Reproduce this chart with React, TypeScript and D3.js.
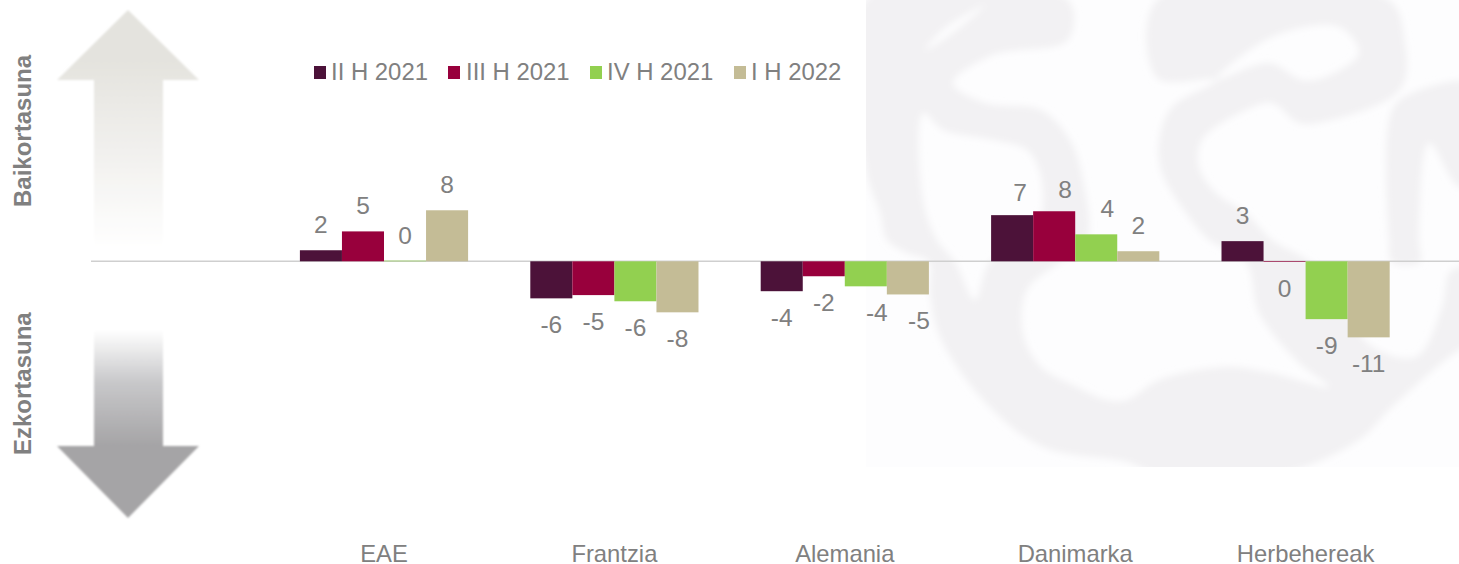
import React from "react";
import { scaleBand, scaleLinear, line, curveCatmullRomClosed } from "d3";

const width = 1459;
const height = 564;

const categories = ["EAE", "Frantzia", "Alemania", "Danimarka", "Herbehereak"];
const seriesNames = ["II H 2021", "III H 2021", "IV H 2021", "I H 2022"];
const seriesColors = ["#4c1239", "#98003c", "#92d050", "#c4bc96"];

// one value per category
const valuesH2 = [1.7, -5.7, -4.6, 7.1, 3.1];
const valuesH3 = [4.6, -5.2, -2.3, 7.7, -0.1];
const valuesH4 = [0.1, -6.15, -3.85, 4.15, -8.9];
const valuesH1 = [7.85, -7.85, -5.1, 1.55, -11.7];
const allValues = [valuesH2, valuesH3, valuesH4, valuesH1];

// the labels printed on the chart
const labelsH2 = ["2", "-6", "-4", "7", "3"];
const labelsH3 = ["5", "-5", "-2", "8", "0"];
const labelsH4 = ["0", "-6", "-4", "4", "-9"];
const labelsH1 = ["8", "-8", "-5", "2", "-11"];
const allLabels = [labelsH2, labelsH3, labelsH4, labelsH1];

const x0 = scaleBand().domain(categories).range([268.8, 1420.8]).paddingInner(0.27).paddingOuter(0.135);
const x1 = scaleBand().domain(seriesNames).range([0, x0.bandwidth()]);
const y = scaleLinear().domain([-12, 10]).range([339.3, 196.3]);

// labels the author dragged off their default spot: "category|series": [dx, dy]
const labelNudge: Record<string, number[]> = {
  "Alemania|2": [11, 0],
  "Alemania|3": [11, 0],
  "Danimarka|0": [8, 3],
  "Danimarka|1": [11, 4],
  "Danimarka|2": [11, 0],
};

const legendSwatchX = [314, 448, 590, 734];
const legendTextX = [331, 466, 607, 751];

// background watermark, traced by hand
const markOuter = [
  [866, 0], [1068, 0], [1068, 40], [993, 55], [953, 83], [985, 103], [1041, 110], [1070, 140], [1083, 180],
  [1087, 240], [1060, 262], [1027, 290], [1023, 333], [1040, 366], [1077, 387], [1107, 400], [1127, 400],
  [1159, 380], [1226, 367], [1272, 373], [1329, 387], [1299, 363], [1259, 313], [1246, 262], [1209, 240],
  [1186, 213], [1162, 173], [1159, 140], [1172, 107], [1216, 80], [1157, 78], [1157, 0], [1389, 0], [1405, 43],
  [1405, 80], [1392, 97], [1332, 120], [1299, 123], [1272, 103], [1246, 110], [1202, 140], [1199, 167],
  [1216, 193], [1246, 213], [1272, 240], [1310, 262], [1340, 300], [1370, 345], [1416, 357], [1442, 307],
  [1449, 273], [1459, 267], [1480, 267], [1480, 340], [1459, 350], [1392, 407], [1359, 440], [1276, 475],
  [1160, 475], [1127, 462], [1043, 447], [983, 400], [940, 337], [930, 293], [929, 262], [907, 253], [887, 240],
  [880, 213], [866, 170],
];
const markHoleLeft = [
  [923, 113], [943, 130], [993, 140], [1027, 150], [1040, 173], [1042, 213], [1030, 245], [990, 262],
  [975, 300], [955, 262], [937, 240], [923, 200],
];
const markHoleTop = [
  [1216, 80], [1272, 37], [1339, 27], [1359, 53], [1325, 77], [1302, 80], [1269, 63],
];
const markStreak = [[925, 50], [945, 28], [985, 5], [950, 35]];
const markRight = [
  [1392, 262], [1389, 240], [1392, 110], [1412, 93], [1480, 85], [1480, 187], [1459, 187], [1429, 143],
  [1419, 240], [1420, 262],
];

const closedCurve = line().curve(curveCatmullRomClosed.alpha(0.5));

export default function App() {
  const arrowUp = line()([[128, 10], [199, 80], [163, 80], [163, 262], [94, 262], [94, 80], [57, 80]]) + "Z";
  const arrowDown = line()([[128, 518], [199, 446], [163, 446], [163, 330], [94, 330], [94, 446], [57, 446]]) + "Z";
  const markPath = [markOuter, markHoleLeft, markHoleTop, markStreak].map((p) => closedCurve(p)).join("");

  return (
    <svg width={width} height={height} style={{ position: "absolute", left: 0, top: 0, fontFamily: "'Liberation Sans', Arial, sans-serif" }}>
      <defs>
        <linearGradient id="upFill" x1="0" y1="10" x2="0" y2="262" gradientUnits="userSpaceOnUse">
          <stop offset="0.2" stopColor="#e4e3de" />
          <stop offset="0.5" stopColor="#efeeeb" />
          <stop offset="0.95" stopColor="#ffffff" />
        </linearGradient>
        <linearGradient id="downFill" x1="0" y1="330" x2="0" y2="446" gradientUnits="userSpaceOnUse">
          <stop offset="0" stopColor="#ffffff" />
          <stop offset="0.45" stopColor="#c8c8ca" />
          <stop offset="1" stopColor="#a5a4a6" />
        </linearGradient>
        <filter id="soft" x="-5%" y="-5%" width="110%" height="110%">
          <feGaussianBlur stdDeviation="3.5" />
        </filter>
        <filter id="softArrow" x="-5%" y="-5%" width="110%" height="110%">
          <feGaussianBlur stdDeviation="0.8" />
        </filter>
        <clipPath id="markClip">
          <rect x={866} y={0} width={593} height={467} />
        </clipPath>
      </defs>

      <rect x={866} y={0} width={593} height={467} fill="#fdfdfe" />
      <g clipPath="url(#markClip)">
        <g filter="url(#soft)" fill="#f2f1f3">
          <path d={markPath} fillRule="evenodd" />
          <path d={closedCurve(markRight)} />
        </g>
      </g>

      <path d={arrowUp} fill="url(#upFill)" filter="url(#softArrow)" />
      <path d={arrowDown} fill="url(#downFill)" filter="url(#softArrow)" />

      <text transform="translate(31,207) rotate(-90)" fontSize={24} fontWeight="bold" fill="#808080">Baikortasuna</text>
      <text transform="translate(31,455) rotate(-90)" fontSize={24} fontWeight="bold" fill="#808080">Ezkortasuna</text>

      {seriesNames.map((name, i) => (
        <g key={name}>
          <rect x={legendSwatchX[i]} y={66} width={12} height={13} fill={seriesColors[i]} />
          <text x={legendTextX[i]} y={80} fontSize={23.9} fill="#808080">{name}</text>
        </g>
      ))}

      <line x1={91} x2={width} y1={y(0)} y2={y(0)} stroke="#cfcfcf" strokeWidth={1.5} />

      {seriesNames.map((name, s) =>
        categories.map((cat, c) => {
          const v = allValues[s][c];
          return (
            <rect
              key={name + cat}
              x={(x0(cat) as number) + (x1(name) as number)}
              y={Math.min(y(v), y(0))}
              width={x1.bandwidth()}
              height={Math.abs(y(v) - y(0))}
              fill={seriesColors[s]}
            />
          );
        })
      )}

      {seriesNames.map((name, s) =>
        categories.map((cat, c) => {
          const v = allValues[s][c];
          const nudge = labelNudge[`${cat}|${s}`] || [0, 0];
          const cx = (x0(cat) as number) + (x1(name) as number) + x1.bandwidth() / 2;
          const base = v >= 0 ? y(v) - 17 : y(v) + 35;
          return (
            <text key={name + cat} x={cx + nudge[0]} y={base + nudge[1]} textAnchor="middle" fontSize={24.5} fill="#808080">
              {allLabels[s][c]}
            </text>
          );
        })
      )}

      {categories.map((cat) => (
        <text key={cat} x={(x0(cat) as number) + x0.bandwidth() / 2} y={562} textAnchor="middle" fontSize={23.8} fill="#808080">
          {cat}
        </text>
      ))}
    </svg>
  );
}
